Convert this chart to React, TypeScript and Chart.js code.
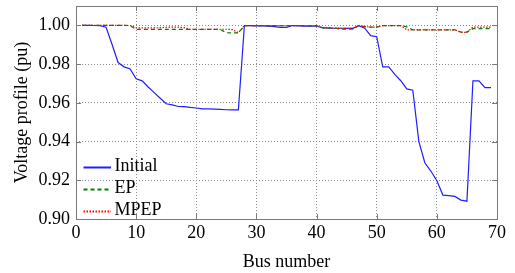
import React, { useEffect, useRef } from 'react';
import { Chart, registerables } from 'chart.js';

Chart.register(...registerables);

const FONT = "'Liberation Serif', 'Times New Roman', serif";

const seriesLabels = ['Initial', 'EP', 'MPEP'];

const busNumbers = [
  1, 2, 3, 4, 5, 6, 7, 8, 9, 10, 11, 12, 13, 14, 15, 16, 17, 18, 19, 20,
  21, 22, 23, 24, 25, 26, 27, 28, 29, 30, 31, 32, 33, 34, 35, 36, 37, 38, 39, 40,
  41, 42, 43, 44, 45, 46, 47, 48, 49, 50, 51, 52, 53, 54, 55, 56, 57, 58, 59, 60,
  61, 62, 63, 64, 65, 66, 67, 68, 69,
];

const initialV = [
  1.0, 0.99997, 0.99993, 0.99984, 0.99902, 0.99009, 0.98079, 0.97858, 0.97745, 0.97245,
  0.97135, 0.96819, 0.96526, 0.96237, 0.9595, 0.95897, 0.95809, 0.95808, 0.95761, 0.95732,
  0.95683, 0.95683, 0.95676, 0.9566, 0.95643, 0.95636, 0.95634, 0.99993, 0.99985, 0.99973,
  0.99971, 0.99961, 0.99935, 0.99901, 0.99895, 0.99992, 0.99975, 0.99959, 0.99954, 0.99954,
  0.99884, 0.99855, 0.99851, 0.9985, 0.99841, 0.9984, 0.99979, 0.99854, 0.9947, 0.99415,
  0.97853, 0.97853, 0.97465, 0.97141, 0.9672, 0.9665, 0.9401, 0.92904, 0.92476, 0.91974,
  0.91234, 0.91205, 0.91166, 0.90976, 0.90919, 0.97129, 0.97129, 0.96786, 0.96786,
];

const epV = [
  1.0, 1.0, 1.0, 1.0, 1.0, 1.0, 1.0, 1.0, 0.9999,
  0.9979, 0.9979, 0.9979, 0.9979, 0.9979, 0.9979, 0.9979, 0.9979, 0.9979, 0.9979,
  0.9979, 0.9979, 0.9979, 0.9979, 0.9979,
  0.9962, 0.9961, 0.9961,
  0.9999, 0.9999, 0.9999, 0.9999, 0.9999, 0.9999, 0.9998, 0.9998, 0.9999, 0.9999, 0.9999, 0.9999, 0.9998,
  0.9987, 0.9987, 0.9986, 0.9981, 0.998, 0.998,
  0.9999,
  0.9993, 0.9991, 0.9991,
  0.9999, 0.9999, 0.9999, 0.9999, 0.9992,
  0.9977, 0.9977, 0.9977, 0.9977, 0.9977, 0.9977, 0.9977, 0.9977,
  0.9965, 0.9965,
  0.9983, 0.9983, 0.9983, 0.9983,
];

const mpepV = [
  1.0, 1.0, 1.0, 1.0, 1.0, 1.0, 1.0, 1.0, 0.9999,
  0.9987, 0.9987, 0.9987, 0.9987, 0.9988, 0.999, 0.9991, 0.9991, 0.9988,
  0.998, 0.998, 0.998, 0.998, 0.998, 0.998, 0.998,
  0.9978, 0.9962,
  0.9999, 0.9999, 0.9999, 0.9999, 0.9999, 0.9999, 0.9998, 0.9998, 0.9999, 0.9999, 0.9999, 0.9999, 0.9998,
  0.9987, 0.9987, 0.9986, 0.9985, 0.9985, 0.9985,
  0.9999,
  0.9993, 0.9991, 0.9991,
  0.9999, 0.9999, 0.9999, 0.9999,
  0.9977, 0.9977, 0.9977, 0.9977, 0.9977, 0.9977, 0.9977, 0.9977, 0.9977,
  0.9964, 0.9964,
  0.9991, 0.9991, 0.9991, 0.9991,
];

const xTickValues = [0, 10, 20, 30, 40, 50, 60, 70];
const yTickValues = [0.9, 0.92, 0.94, 0.96, 0.98, 1.0];

const seriesColors = ['#1f1fff', '#008000', '#ff0000'];
const seriesDash = [[], [4, 3], [1.5, 1.5]];

const toPoints = (vals: number[]) => vals.map((v, i) => ({ x: busNumbers[i], y: v }));

const framePlugin = {
  id: 'frameAndLegend',
  afterDraw(chart: any) {
    const { ctx, chartArea } = chart;
    const { left, right, top, bottom } = chartArea;
    const xs = chart.scales.x;
    const ys = chart.scales.y;
    ctx.save();
    ctx.strokeStyle = '#7a7a7a';
    ctx.lineWidth = 1;
    ctx.setLineDash([]);
    ctx.strokeRect(Math.round(left) + 0.5, Math.round(top) + 0.5, Math.round(right - left), Math.round(bottom - top));
    const tl = 5;
    ctx.beginPath();
    xTickValues.forEach((v) => {
      const px = Math.round(xs.getPixelForValue(v)) + 0.5;
      ctx.moveTo(px, bottom);
      ctx.lineTo(px, bottom - tl);
      ctx.moveTo(px, top);
      ctx.lineTo(px, top + tl);
    });
    yTickValues.forEach((v) => {
      const py = Math.round(ys.getPixelForValue(v)) + 0.5;
      ctx.moveTo(left, py);
      ctx.lineTo(left + tl, py);
      ctx.moveTo(right, py);
      ctx.lineTo(right - tl, py);
    });
    ctx.stroke();

    const rows = [bottom - 48, bottom - 26, bottom - 4];
    chart.data.datasets.forEach((ds: any, i: number) => {
      const baseY = rows[i];
      const ly = Math.round(baseY - 4) + 0.5;
      ctx.beginPath();
      ctx.strokeStyle = ds.borderColor;
      ctx.lineWidth = 2;
      ctx.setLineDash(ds.borderDash || []);
      ctx.moveTo(left + 7.5, ly);
      ctx.lineTo(left + 35, ly);
      ctx.stroke();
      ctx.setLineDash([]);
      ctx.fillStyle = '#000';
      ctx.font = `18px ${FONT}`;
      ctx.textBaseline = 'alphabetic';
      ctx.textAlign = 'left';
      ctx.fillText(ds.label, left + 38.5, baseY);
    });
    ctx.restore();
  },
};

export default function App() {
  const ref = useRef<HTMLCanvasElement | null>(null);

  useEffect(() => {
    if (!ref.current) return;
    const series = [initialV, epV, mpepV];
    const chart = new Chart(ref.current, {
      type: 'line',
      data: {
        datasets: series.map((vals, i) => ({
          label: seriesLabels[i],
          data: toPoints(vals),
          borderColor: seriesColors[i],
          borderWidth: 1.2,
          borderDash: seriesDash[i],
          pointRadius: 0,
          tension: 0,
          fill: false,
          order: 3 - i,
        })),
      },
      options: {
        animation: false,
        responsive: false,
        devicePixelRatio: 1,
        layout: { padding: { top: 6, right: 18, left: 0, bottom: 0 } },
        plugins: {
          legend: { display: false },
          tooltip: { enabled: false },
        },
        scales: {
          x: {
            type: 'linear',
            min: 0,
            max: 70,
            afterFit: (s: any) => {
              s.height = 54;
              s.paddingLeft = 0;
              s.paddingRight = 0;
              s.paddingTop = 0;
              s.paddingBottom = 0;
            },
            afterBuildTicks: (s: any) => { s.ticks = xTickValues.map((v) => ({ value: v })); },
            grid: { color: '#8a8a8a', lineWidth: 1, drawTicks: false },
            border: { display: false, dash: [1, 2] },
            ticks: {
              color: '#000',
              font: { family: FONT, size: 18 },
              padding: 3,
              maxRotation: 0,
              callback: (v: any) => String(v),
            },
            title: {
              display: true,
              text: 'Bus number',
              color: '#000',
              font: { family: FONT, size: 18 },
              padding: { top: 0, bottom: 0 },
            },
          },
          y: {
            type: 'linear',
            min: 0.9,
            max: 1.01,
            afterFit: (s: any) => {
              s.width = 76;
              s.paddingTop = 0;
              s.paddingBottom = 0;
              s.paddingLeft = 0;
              s.paddingRight = 0;
            },
            afterBuildTicks: (s: any) => { s.ticks = yTickValues.map((v) => ({ value: v })); },
            grid: { color: '#8a8a8a', lineWidth: 1, drawTicks: false },
            border: { display: false, dash: [1, 2] },
            ticks: {
              color: '#000',
              font: { family: FONT, size: 18 },
              padding: 6,
              callback: (v: any) => Number(v).toFixed(2),
            },
            title: {
              display: true,
              text: 'Voltage profile (pu)',
              color: '#000',
              font: { family: FONT, size: 18 },
              padding: { top: 11, bottom: 0 },
            },
          },
        },
      },
      plugins: [framePlugin],
    } as any);
    return () => chart.destroy();
  }, []);

  return (
    <div style={{ position: 'absolute', left: 0, top: 0, width: 515, height: 273, background: '#fff' }}>
      <canvas ref={ref} width={515} height={273} style={{ display: 'block' }} />
    </div>
  );
}
